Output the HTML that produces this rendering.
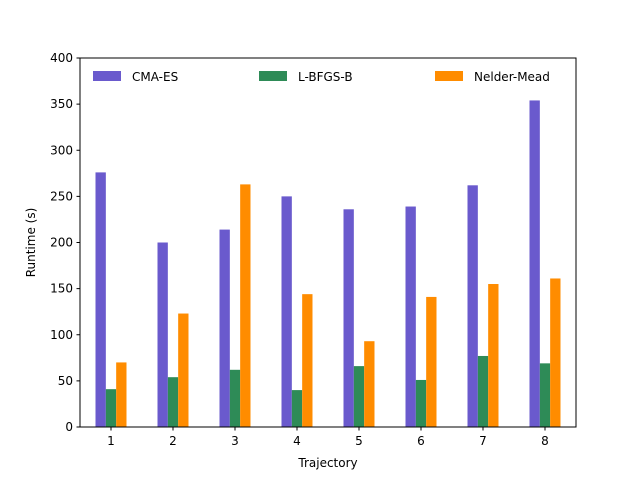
<!DOCTYPE html>
<html><head><meta charset="utf-8"><style>
body{margin:0;background:#fff}
svg text{font-family:"DejaVu Sans","Liberation Sans",sans-serif;font-size:12px;fill:#000}
</style></head><body>
<svg id="c" width="640" height="480"></svg>
<script>
const categories=["1","2","3","4","5","6","7","8"];
const cmaes=[276,200,214,250,236,239,262,354];
const lbfgsb=[41,54,62,40,66,51,77,69];
const nelder=[70,123,263,144,93,141,155,161];
const yTicks=[0,50,100,150,200,250,300,350,400];
const seriesNames=["CMA-ES","L-BFGS-B","Nelder-Mead"];
const colors=["#6a5acd","#2e8b57","#ff8c00"];
const svg=document.getElementById('c');
const NS='http://www.w3.org/2000/svg';
const L=80,R=576,T=58,B=427;
const xs=v=>L+(v-0.5)/8*(R-L);
const ys=v=>B-v/400*(B-T);
function mk(t,a,p){const e=document.createElementNS(NS,t);for(const k in a)e.setAttribute(k,a[k]);(p||svg).appendChild(e);return e;}
const series=[cmaes,lbfgsb,nelder];
const w=1/6;
series.forEach((s,si)=>{s.forEach((v,i)=>{
 const x0=xs(i+1+(si-1)*w-w/2),x1=xs(i+1+(si-1)*w+w/2);
 const r=mk('rect',{x:x0,y:ys(v),width:x1-x0,height:ys(0)-ys(v),fill:colors[si]});
 
 
});});
const ax=mk('rect',{x:L,y:T,width:R-L,height:B-T,fill:'none',stroke:'#000','stroke-width':1});


yTicks.forEach(t=>{
 mk('line',{x1:L-3.5,x2:L,y1:ys(t),y2:ys(t),stroke:'#000'});
 const tx=mk('text',{x:L-7,y:ys(t)+4,'text-anchor':'end'});tx.textContent=t;
 
 
});
categories.forEach((c,i)=>{
 mk('line',{x1:xs(i+1),x2:xs(i+1),y1:B,y2:B+3.5,stroke:'#000'});
 const tx=mk('text',{x:xs(i+1),y:B+18,'text-anchor':'middle'});tx.textContent=c;
 
 
});
const xt=mk('text',{x:(L+R)/2,y:467,'text-anchor':'middle'});xt.textContent='Trajectory';


const yt=mk('text',{x:0,y:0,'text-anchor':'middle',transform:`translate(35,${(T+B)/2}) rotate(-90)`});yt.textContent='Runtime (s)';


const lx=[93,259,435];
seriesNames.forEach((n,i)=>{
 const g=mk('g',{});
 
 
 mk('rect',{x:lx[i],y:71,width:28,height:10,fill:colors[i]},g);
 const tx=mk('text',{x:lx[i]+39,y:81},g);tx.textContent=n;
});
</script>
</body></html>
